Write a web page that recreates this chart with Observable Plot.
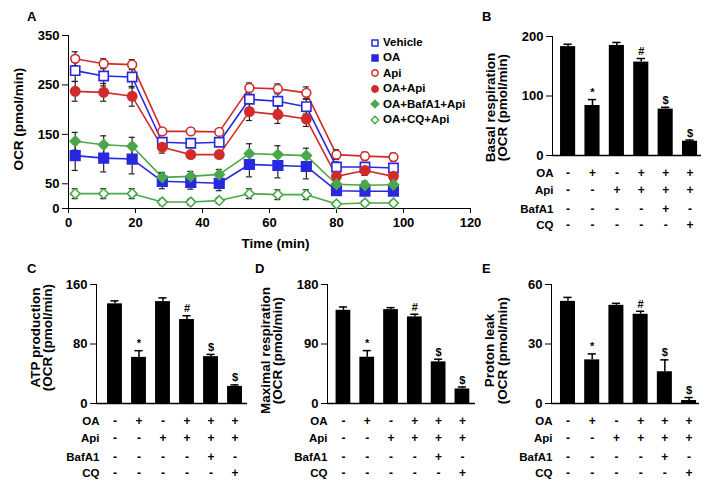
<!DOCTYPE html>
<html><head><meta charset="utf-8">
<script src="https://cdn.jsdelivr.net/npm/d3@7"></script>
<script src="https://cdn.jsdelivr.net/npm/@observablehq/plot@0.6"></script>
<style>
body{margin:0;background:#fff;}
#fig{position:relative;width:712px;height:486px;overflow:hidden;background:#fff;font-family:"Liberation Sans",Arial,sans-serif;font-weight:bold;color:#000;}
#fig .abs{position:absolute;}
.letter{font-size:13px;font-weight:bold;}
.leg{font-size:11.5px;font-weight:bold;line-height:15.4px;}
.leg div{display:flex;align-items:center;height:15.4px;}
.leg svg{margin-right:3px;}
</style></head><body><div id="fig"></div>
<script>
// ---------- Panel A data ----------
const time = [2, 10.5, 19, 28, 36.5, 45, 54, 62.5, 71, 80, 88.5, 97];
const timeTicks = [0, 20, 40, 60, 80, 100, 120];
const ocrTicks = [0, 50, 150, 250, 350];
const seriesNames = ["Vehicle", "OA", "Api", "OA+Api", "OA+BafA1+Api", "OA+CQ+Api"];
const vehicle  = [279, 268, 266, 134, 132, 134, 221, 217, 206, 84, 84, 82];
const oa       = [107, 102, 100, 55, 53, 51, 89, 87, 85, 36, 35, 35];
const api      = [303, 293, 291, 156, 156, 155, 244, 242, 234, 109, 106, 104];
const oaApi    = [237, 235, 227, 124, 109, 109, 196, 190, 181, 65, 77, 65];
const oaBafApi = [136, 129, 126, 63, 65, 69, 111, 109, 107, 49, 47, 48];
const oaCqApi  = [30, 30, 30, 13, 13, 16, 30, 28, 28, 9, 11, 11];
const vehicleErr  = [22, 20, 22, 8, 8, 8, 18, 18, 15, 10, 8, 8];
const oaErr       = [30, 28, 30, 15, 14, 15, 25, 25, 25, 8, 8, 8];
const apiErr      = [14, 10, 10, 5, 5, 5, 10, 10, 12, 10, 8, 8];
const oaApiErr    = [20, 18, 20, 12, 6, 6, 18, 18, 15, 12, 10, 10];
const oaBafApiErr = [18, 18, 18, 10, 10, 10, 20, 18, 15, 8, 8, 8];
const oaCqApiErr  = [10, 10, 10, 6, 6, 6, 10, 10, 10, 5, 5, 5];

// ---------- Bar panels data ----------
const tableRowNames = ["OA", "Api", "BafA1", "CQ"];
const rowOA    = ["-", "+", "-", "+", "+", "+"];
const rowApi   = ["-", "-", "+", "+", "+", "+"];
const rowBafA1 = ["-", "-", "-", "-", "+", "-"];
const rowCQ    = ["-", "-", "-", "-", "-", "+"];
const sigMarks = ["", "*", "", "#", "$", "$"];
const basal     = [183, 84, 185, 157, 78, 24];
const basalErr  = [4, 10, 5, 6, 3, 2];
const basalTicks = [0, 100, 200];
const atp       = [134, 62, 137, 113, 63, 23];
const atpErr    = [4, 9, 5, 5, 3, 2];
const atpTicks  = [0, 80, 160];
const maximal   = [141, 70, 142, 131, 63, 22];
const maximalErr = [5, 10, 3, 4, 4, 3];
const maximalTicks = [0, 90, 180];
const leak      = [51.5, 22, 49.5, 45, 16, 1.5];
const leakErr   = [2, 3, 1, 1.5, 6, 1.5];
const leakTicks = [0, 30, 60];
const ocrUnit = "(OCR (pmol/min)";

// ---------- styling ----------
const BLUE = "#2828e0", RED = "#d22a2a", GREEN = "#4aa84a";
const seriesStyle = [
  {color: BLUE, symbol: "square", filled: false, r: 5.2},
  {color: BLUE, symbol: "square", filled: true, r: 5.4},
  {color: RED, symbol: "circle", filled: false, r: 4.4},
  {color: RED, symbol: "circle", filled: true, r: 4.7},
  {color: GREEN, symbol: "diamond2", filled: true, r: 4.6},
  {color: GREEN, symbol: "diamond2", filled: false, r: 4.4}
];
const seriesMeans = [vehicle, oa, api, oaApi, oaBafApi, oaCqApi];
const seriesErrs = [vehicleErr, oaErr, apiErr, oaApiErr, oaBafApiErr, oaCqApiErr];
const FONT = '"Liberation Sans", Arial, sans-serif';
const fig = document.getElementById("fig");

function place(el, left, top) {
  el.classList.add("abs");
  el.style.left = left + "px";
  el.style.top = top + "px";
  fig.appendChild(el);
}

// ---------- Panel A ----------
const series = seriesNames.map((s, k) => time.map((t, i) => ({s, t, v: seriesMeans[k][i], e: seriesErrs[k][i]})));
const allPts = series.flat();
const capW = 0.9;
const plotA = Plot.plot({
  width: 480, height: 250,
  marginLeft: 68, marginRight: 10, marginTop: 35, marginBottom: 42,
  style: {fontFamily: FONT, fontWeight: "bold", fontSize: "13px", background: "transparent", overflow: "visible", color: "#000"},
  x: {domain: [0, 120], ticks: timeTicks, tickSize: 5, tickPadding: 4, line: true, label: null},
  y: {domain: [0, 350], ticks: ocrTicks, tickSize: 6, line: true, label: null},
  marks: [
    ...series.map((pts, k) => Plot.line(pts, {x: "t", y: "v", stroke: seriesStyle[k].color, strokeWidth: 1.6})),
    Plot.ruleX(allPts, {x: "t", y1: d => d.v - d.e, y2: d => d.v + d.e, stroke: "#222", strokeWidth: 1.2}),
    Plot.ruleY(allPts, {x1: d => d.t - capW, x2: d => d.t + capW, y: d => d.v + d.e, stroke: "#222", strokeWidth: 1.2}),
    Plot.ruleY(allPts, {x1: d => d.t - capW, x2: d => d.t + capW, y: d => d.v - d.e, stroke: "#222", strokeWidth: 1.2}),
    ...series.map((pts, k) => Plot.dot(pts, {
      x: "t", y: "v", symbol: seriesStyle[k].symbol, r: seriesStyle[k].r,
      fill: seriesStyle[k].filled ? seriesStyle[k].color : "white",
      stroke: seriesStyle[k].color, strokeWidth: 1.6
    })),
    Plot.text(["Time (min)"], {frameAnchor: "bottom", textAnchor: "middle", lineAnchor: "middle", dx: 6, dy: 35, fontSize: 13.5, fontWeight: "bold"}),
    Plot.text(["OCR (pmol/min)"], {frameAnchor: "left", rotate: -90, textAnchor: "middle", lineAnchor: "middle", dx: -50, dy: -3, fontSize: 13.5, fontWeight: "bold"})
  ]
});
place(plotA, 0, 0);

// legend
const leg = document.createElement("div");
leg.className = "leg";
seriesNames.forEach((name, k) => {
  const st = seriesStyle[k];
  const row = document.createElement("div");
  const svg = d3.create("svg").attr("width", 10).attr("height", 10);
  const symMap = {square: d3.symbolSquare, circle: d3.symbolCircle, diamond2: d3.symbolDiamond2};
  svg.append("path")
    .attr("transform", "translate(5,5)")
    .attr("d", d3.symbol(symMap[st.symbol], st.symbol === "circle" ? 32 : 36)())
    .attr("fill", st.filled ? st.color : "white")
    .attr("stroke", st.color).attr("stroke-width", 1.5);
  row.appendChild(svg.node());
  const span = document.createElement("span");
  span.textContent = name;
  row.appendChild(span);
  leg.appendChild(row);
});
place(leg, 370, 35);

// ---------- Bar panels ----------
const tableSigns = [rowOA, rowApi, rowBafA1, rowCQ];
function barPanel(cfg) {
  const data = cfg.values.map((v, i) => ({i, v, e: cfg.errs[i], s: sigMarks[i]}));
  const rowDy = [18, 34.5, 54, 70];
  const hw = 0.31, cw = 0.17;
  const lbl = {frameAnchor: "left", rotate: -90, textAnchor: "middle", lineAnchor: "middle", dy: cfg.labelDy, fontSize: 13.5, fontWeight: "bold"};
  return Plot.plot({
    width: cfg.width, height: cfg.height,
    marginLeft: cfg.marginLeft, marginRight: cfg.marginRight, marginTop: cfg.marginTop, marginBottom: cfg.marginBottom,
    style: {fontFamily: FONT, fontWeight: "bold", fontSize: "13px", background: "transparent", overflow: "visible", color: "#000"},
    x: {domain: cfg.xDomain, axis: null},
    y: {domain: cfg.yDomain, ticks: cfg.yTicks, tickSize: 6, tickPadding: 3, line: true, label: null},
    marks: [
      Plot.rectY(data, {x1: d => d.i - hw, x2: d => d.i + hw, y: "v", fill: "black"}),
      Plot.ruleX(data, {x: "i", y1: "v", y2: d => d.v + d.e, stroke: "black", strokeWidth: 1.5}),
      Plot.ruleY(data, {x1: d => d.i - cw, x2: d => d.i + cw, y: d => d.v + d.e, stroke: "black", strokeWidth: 1.5}),
      Plot.text(data, {x: "i", y: d => d.v + d.e, text: "s", dy: -7, fontSize: 11, fontWeight: "bold"}),
      Plot.ruleY([0], {stroke: "black", strokeWidth: 1.3}),
      ...tableSigns.flatMap((signs, r) => [
        Plot.text(data, {x: "i", text: d => signs[d.i], frameAnchor: "bottom", lineAnchor: "middle", dy: rowDy[r], fontSize: 12, fontWeight: "bold"}),
        Plot.text([tableRowNames[r]], {frameAnchor: "bottom-left", textAnchor: "end", lineAnchor: "middle", dx: cfg.rowDx, dy: rowDy[r], fontSize: 11.5, fontWeight: "bold"})
      ]),
      Plot.text([cfg.label], {...lbl, dx: cfg.labelDx[0]}),
      Plot.text([ocrUnit], {...lbl, dx: cfg.labelDx[1]})
    ]
  });
}

place(barPanel({values: basal, errs: basalErr, yDomain: [0, 200], yTicks: basalTicks,
  label: "Basal respiration", width: 242, height: 240,
  marginLeft: 82, marginRight: 11, marginTop: 36, marginBottom: 85,
  xDomain: [-0.64, 5.47], rowDx: 1, labelDx: [-62, -50], labelDy: 11.5}), 470, 0);

place(barPanel({values: atp, errs: atpErr, yDomain: [0, 160], yTicks: atpTicks,
  label: "ATP production", width: 255, height: 246,
  marginLeft: 96, marginRight: 8, marginTop: 44, marginBottom: 83,
  xDomain: [-0.77, 5.52], rowDx: 3, labelDx: [-61, -48.5], labelDy: -6.5}), 0, 240);

place(barPanel({values: maximal, errs: maximalErr, yDomain: [0, 180], yTicks: maximalTicks,
  label: "Maximal respiration", width: 232, height: 246,
  marginLeft: 77, marginRight: 7, marginTop: 44, marginBottom: 83,
  xDomain: [-0.67, 5.55], rowDx: 0, labelDx: [-62, -50], labelDy: 6.5}), 250, 240);

place(barPanel({values: leak, errs: leakErr, yDomain: [0, 60], yTicks: leakTicks,
  label: "Proton leak", width: 230, height: 246,
  marginLeft: 69, marginRight: 13, marginTop: 44, marginBottom: 83,
  xDomain: [-0.68, 5.43], rowDx: 1, labelDx: [-62, -49], labelDy: 6.5}), 482, 240);

// panel letters
[["A", 27, 9], ["B", 482, 9], ["C", 27, 261], ["D", 255, 261], ["E", 482, 261]].forEach(([t, x, y]) => {
  const d = document.createElement("div");
  d.className = "letter";
  d.textContent = t;
  place(d, x, y);
});
</script></body></html>
